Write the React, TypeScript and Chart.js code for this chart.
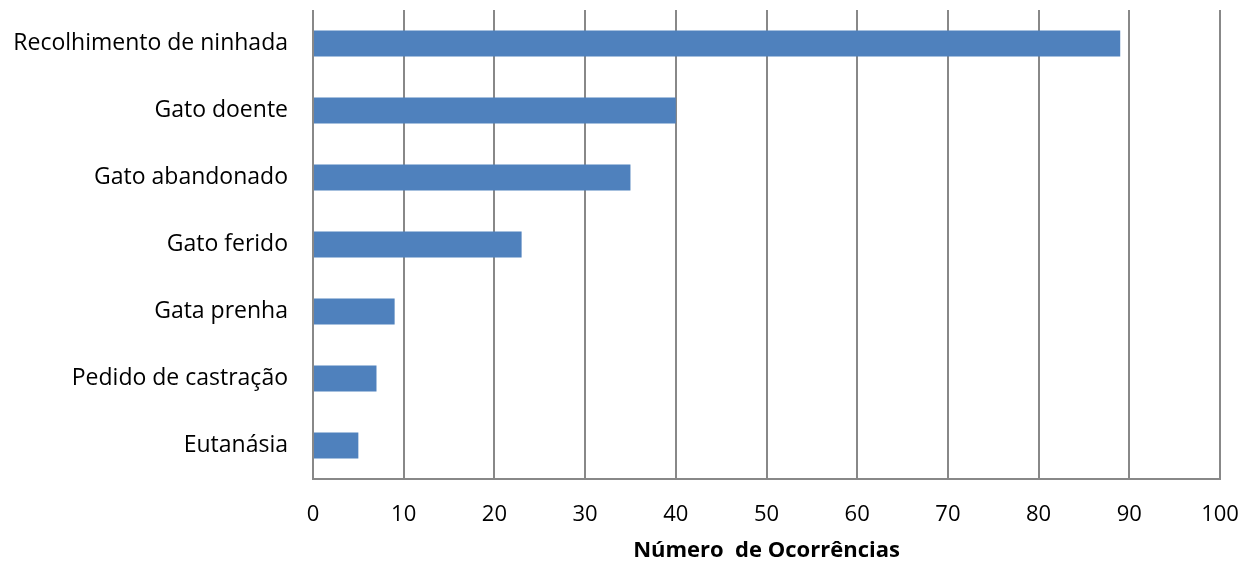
import React, { useEffect, useRef } from "react";
import { Chart, registerables } from "chart.js";

Chart.register(...registerables);

const categories = [
  "Recolhimento de ninhada",
  "Gato doente",
  "Gato abandonado",
  "Gato ferido",
  "Gata prenha",
  "Pedido de castração",
  "Eutanásia",
];
const occurrences = [89, 40, 35, 23, 9, 7, 5];
const xTicks = [0, 10, 20, 30, 40, 50, 60, 70, 80, 90, 100];
const xTitle = "Número  de Ocorrências";

export default function App() {
  const ref = useRef<HTMLCanvasElement | null>(null);
  useEffect(() => {
    document.body.style.margin = "0";
    const canvas = ref.current;
    if (!canvas) return;
    const font = "'Open Sans', Lato, sans-serif";
    const chart = new Chart(canvas, {
      type: "bar",
      data: {
        labels: categories,
        datasets: [
          {
            data: occurrences,
            backgroundColor: "#4F81BD",
            borderWidth: 0,
            categoryPercentage: 1,
            barPercentage: 0.39,
          },
        ],
      },
      options: {
        indexAxis: "y",
        animation: false,
        responsive: false,
        maintainAspectRatio: false,
        layout: { padding: { top: 10, right: 32, left: 0, bottom: 0 } },
        plugins: { legend: { display: false }, tooltip: { enabled: false } },
        scales: {
          x: {
            min: 0,
            max: 100,
            afterBuildTicks: (s: any) => {
              s.ticks = xTicks.map((v) => ({ value: v }));
            },
            afterFit: (s: any) => {
              s.height = 85;
              s.paddingLeft = 0;
              s.paddingRight = 0;
            },
            grid: { color: "#888888", lineWidth: 2, drawTicks: false },
            border: { color: "#888888", width: 2 },
            ticks: {
              padding: 23,
              color: "#000",
              font: { family: font, size: 22 },
            },
            title: {
              display: true,
              text: xTitle,
              color: "#000",
              font: { family: font, size: 22, weight: "bold" },
              padding: { top: 0, bottom: 0 },
            },
          },
          y: {
            afterFit: (s: any) => {
              s.width = 313;
              s.paddingTop = 0;
              s.paddingBottom = 0;
            },
            grid: { display: false, drawTicks: false },
            border: { display: false },
            ticks: {
              padding: 25,
              color: "#000",
              font: { family: font, size: 23 },
            },
          },
        },
      },
    });
    return () => chart.destroy();
  }, []);
  return (
    <div style={{ width: 1252, height: 564 }}>
      <canvas ref={ref} width={1252} height={564} />
    </div>
  );
}
